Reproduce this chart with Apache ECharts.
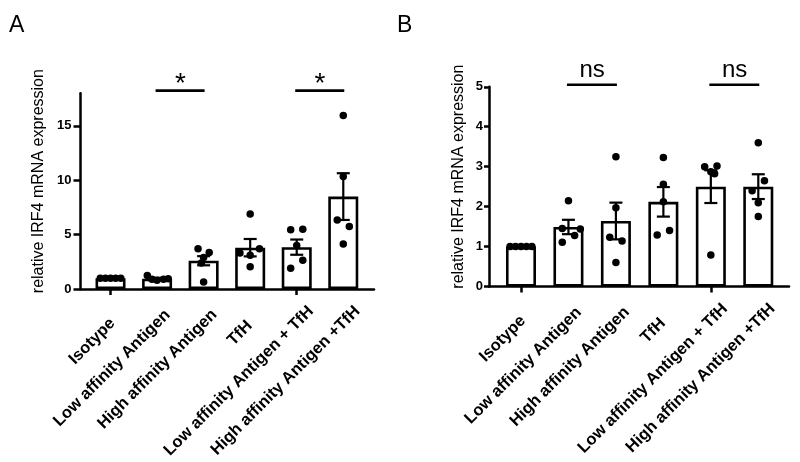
<!DOCTYPE html>
<html><head><meta charset="utf-8">
<script src="https://cdn.jsdelivr.net/npm/echarts@6/dist/echarts.min.js"></script>
<style>html,body{margin:0;padding:0;background:#fff}#c{width:800px;height:462px}</style>
</head><body><div id="c"></div>
<script>
// ---------- data ----------
const categories = ['Isotype', 'Low affinity Antigen', 'High affinity Antigen', 'TfH', 'Low affinity Antigen + TfH', 'High affinity Antigen +TfH'];
const yTitle = 'relative IRF4 mRNA expression';
const panelLetters = ['A', 'B'];

// Panel A
const meanA = [1.0, 0.95, 2.6, 3.8, 3.85, 8.5];
const semA  = [0.0, 0.08, 0.42, 0.8, 0.7, 2.15];
const pointsA = [
  [1.0, 1.0, 1.0, 1.0, 1.0],
  [1.25, 0.9, 0.8, 0.9, 0.95],
  [3.7, 3.35, 2.9, 2.4, 0.65],
  [6.9, 3.3, 3.1, 3.7, 2.05],
  [5.45, 5.5, 4.0, 2.65, 1.9],
  [15.95, 10.35, 6.35, 5.75, 4.15]
];
const jitterA = [
  [-0.22, -0.11, 0, 0.11, 0.22],
  [-0.21, -0.11, 0, 0.14, 0.24],
  [-0.12, 0.12, 0, -0.05, 0],
  [0, -0.22, 0, 0.2, 0],
  [-0.13, 0.13, 0, 0.13, -0.13],
  [0, 0, -0.13, 0.13, 0]
];
const yTicksA = [0, 5, 10, 15];
const yMaxA = 18;
const sigA = [[1, 2, 18.25, '*'], [4, 5, 18.25, '*']];

// Panel B
const meanB = [1.0, 1.49, 1.64, 2.12, 2.5, 2.5];
const semB  = [0.0, 0.18, 0.46, 0.37, 0.41, 0.31];
const pointsB = [
  [1.0, 1.0, 1.0, 1.0, 1.0],
  [2.15, 1.45, 1.44, 1.28, 1.11],
  [3.25, 1.97, 1.23, 1.14, 0.6],
  [3.23, 2.56, 2.12, 1.4, 1.29],
  [3.0, 3.02, 2.87, 2.82, 0.79],
  [3.6, 2.65, 2.4, 2.1, 1.75]
];
const jitterB = [
  [-0.23, -0.115, 0, 0.115, 0.23],
  [0, -0.13, 0.25, 0.13, -0.13],
  [0, 0, -0.13, 0.13, 0],
  [0, 0, 0, 0.13, -0.13],
  [-0.13, 0.13, 0, 0.08, 0],
  [0, 0.13, -0.13, 0, 0]
];
const yTicksB = [0, 1, 2, 3, 4, 5];
const yMaxB = 5;
const sigB = [[1, 2, 5.05, 'ns'], [4, 5, 5.05, 'ns']];

// ---------- layout ----------
const FONT = "'Liberation Sans', Arial, Helvetica, sans-serif";
const LAB_FONT_SIZE = 16.5;
// category k is drawn at x = k + 1 on the (hidden) numeric axis
const panels = [
  {left: 80.5, top: 93.3, width: 293.5, height: 195.7, xmin: 0.355, xmax: 6.66, mean: meanA, sem: semA, pts: pointsA, jit: jitterA, ticks: yTicksA, ymax: yMaxA, sig: sigA, nameGap: 34, sigFont: 28, sigDy: -6, tickLen: 7, labMargin: 9, letterLeft: 4},
  {left: 489, top: 86.8, width: 300, height: 199.7, xmin: 0.326, xmax: 6.647, mean: meanB, sem: semB, pts: pointsB, jit: jitterB, ticks: yTicksB, ymax: yMaxB, sig: sigB, nameGap: 22, sigFont: 24, sigDy: -14.7, tickLen: 5, labMargin: 6, letterLeft: 392}
];
const LABEL_SHIFT_X = 14.5;
const LABEL_MARGIN = 19.5;

// label length compensation (rotated labels sit slightly further out the longer they are)
const mctx = document.createElement('canvas').getContext('2d');
mctx.font = `bold ${LAB_FONT_SIZE}px ${FONT}`;
const labW = categories.map(c => mctx.measureText(c).width);
const labWMax = Math.max(...labW);
const rich = {t: {fontSize: LAB_FONT_SIZE, fontWeight: 'bold', fontFamily: FONT, color: '#000'}};
labW.forEach((w, k) => { rich['p' + k] = {width: Math.max(0.5, 0.12 * (labWMax - w)), fontSize: LAB_FONT_SIZE}; });

const grid = [], xAxis = [], yAxis = [], series = [], title = [];
panels.forEach((p, i) => {
  const band = p.width / (p.xmax - p.xmin);
  const innerLeft = p.left + (0.5 - p.xmin) * band;
  const innerWidth = categories.length * band;
  const gOuter = grid.length;
  grid.push({left: p.left, top: p.top, width: p.width, height: p.height});
  const gInner = grid.length;
  grid.push({left: innerLeft, top: p.top, width: innerWidth, height: p.height});
  const gLab = grid.length;
  grid.push({left: innerLeft + LABEL_SHIFT_X, top: p.top, width: innerWidth, height: p.height});

  const xo = xAxis.length;
  xAxis.push({gridIndex: gOuter, type: 'value', min: p.xmin, max: p.xmax,
    axisLine: {show: true, onZero: false, lineStyle: {color: '#000', width: 2.5}},
    axisTick: {show: false}, axisLabel: {show: false}, splitLine: {show: false}});
  const xi = xAxis.length;
  xAxis.push({gridIndex: gInner, type: 'category', data: categories,
    axisLine: {show: false, onZero: false},
    axisTick: {show: true, alignWithLabel: true, length: 6, lineStyle: {color: '#000', width: 2.5}},
    axisLabel: {show: false}, splitLine: {show: false}});
  xAxis.push({gridIndex: gLab, type: 'category', data: categories,
    axisLine: {show: false, onZero: false}, axisTick: {show: false},
    axisLabel: {rotate: 45, interval: 0, margin: LABEL_MARGIN, color: '#000', fontSize: LAB_FONT_SIZE, fontWeight: 'bold', fontFamily: FONT,
      formatter: (v, idx) => `{t|${v}}{p${idx}| }`, rich},
    splitLine: {show: false}});

  const yo = yAxis.length;
  yAxis.push({gridIndex: gOuter, type: 'value', min: 0, max: p.ymax,
    name: yTitle, nameLocation: 'middle', nameGap: p.nameGap,
    nameTextStyle: {color: '#000', fontSize: 16, fontFamily: FONT, padding: [0, 0, 0, 20]},
    axisLine: {show: true, onZero: false, lineStyle: {color: '#000', width: 2.5}},
    axisTick: {show: true, length: p.tickLen, customValues: p.ticks, lineStyle: {color: '#000', width: 2.5}},
    axisLabel: {customValues: p.ticks, margin: p.labMargin, color: '#000', fontSize: 13, fontWeight: 'bold', fontFamily: FONT},
    splitLine: {show: false}});
  const yi = yAxis.length;
  yAxis.push({gridIndex: gInner, type: 'value', min: 0, max: p.ymax, show: false, splitLine: {show: false}});
  yAxis.push({gridIndex: gLab, type: 'value', min: 0, max: p.ymax, show: false, splitLine: {show: false}});

  // bars
  series.push({type: 'bar', xAxisIndex: xi, yAxisIndex: yi, data: p.mean, barWidth: 30, z: 2,
    itemStyle: {color: '#fff', borderColor: '#000', borderWidth: 2.6}, silent: true});

  // error bars (SEM)
  series.push({type: 'custom', xAxisIndex: xo, yAxisIndex: yo, z: 3, silent: true,
    data: p.mean.map((m, k) => [k + 1, m, p.sem[k]]),
    renderItem: (params, api) => {
      const x = api.value(0), m = api.value(1), s = api.value(2);
      if (!s) return {type: 'group', children: []};
      const a = api.coord([x, m + s]), b = api.coord([x, m - s]);
      const cw = 6.5, st = {stroke: '#000', lineWidth: 2.2};
      return {type: 'group', children: [
        {type: 'line', shape: {x1: a[0], y1: a[1], x2: b[0], y2: b[1]}, style: st},
        {type: 'line', shape: {x1: a[0] - cw, y1: a[1], x2: a[0] + cw, y2: a[1]}, style: st},
        {type: 'line', shape: {x1: b[0] - cw, y1: b[1], x2: b[0] + cw, y2: b[1]}, style: st}
      ]};
    }});

  // individual points
  const sdata = [];
  p.pts.forEach((arr, k) => arr.forEach((v, j) => sdata.push([k + 1 + p.jit[k][j], v])));
  series.push({type: 'scatter', xAxisIndex: xo, yAxisIndex: yo, z: 4, silent: true,
    symbolSize: 7.5, itemStyle: {color: '#000', opacity: 1}, data: sdata});

  // significance brackets
  series.push({type: 'custom', xAxisIndex: xo, yAxisIndex: yo, z: 5, clip: false, silent: true,
    data: p.sig.map(s => [s[0] + 1, s[1] + 1, s[2]]),
    renderItem: (params, api) => {
      const a = api.coord([api.value(0), api.value(2)]);
      const b = api.coord([api.value(1), api.value(2)]);
      const lab = p.sig[params.dataIndex][3];
      return {type: 'group', children: [
        {type: 'line', shape: {x1: a[0] - 1.5, y1: a[1], x2: b[0] + 1, y2: b[1]}, style: {stroke: '#000', lineWidth: 2.6}},
        {type: 'text', style: {text: lab, x: (a[0] + b[0]) / 2, y: a[1] + p.sigDy, align: 'center', verticalAlign: 'middle',
          fill: '#000', fontSize: p.sigFont, fontFamily: FONT}}
      ]};
    }});

  title.push({text: panelLetters[i], left: p.letterLeft, top: 9,
    textStyle: {fontSize: 23, fontWeight: 'normal', color: '#000', fontFamily: FONT}});
});

const chart = echarts.init(document.getElementById('c'), null, {renderer: 'canvas'});
chart.setOption({animation: false, backgroundColor: '#fff', title, grid, xAxis, yAxis, series});
</script>
</body></html>
